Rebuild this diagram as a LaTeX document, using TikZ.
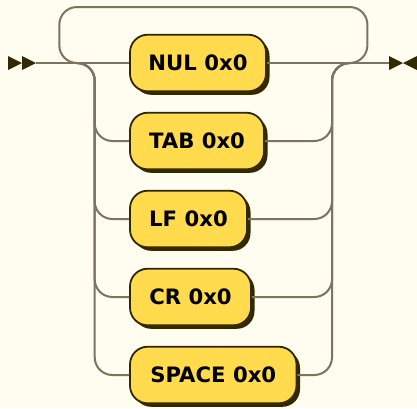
\documentclass[tikz,border=0pt]{standalone}
\usepackage{fontspec}
\setmainfont{DejaVu Sans}
\usetikzlibrary{shadows}
\definecolor{bg}{HTML}{FFFCF0}
\definecolor{ink}{HTML}{332900}
\definecolor{term}{HTML}{FFDB4D}
\definecolor{railc}{HTML}{7D745F}
\begin{document}
\begin{tikzpicture}[x=1pt,y=-1pt,
  terminal/.style={draw=ink, line width=1.8pt, fill=term, rounded corners=17.7pt,
    minimum height=56.6pt, inner sep=0pt, text=black,
    font=\bfseries\fontsize{21.2}{24}\selectfont,
    drop shadow={shadow xshift=3.5pt, shadow yshift=-3.5pt, fill=ink, opacity=1}},
  rail/.style={draw=railc, line width=2pt, rounded corners=17.7pt},
  marker/.style={fill=ink}]
\fill[bg] (0,0) rectangle (417,408);
\useasboundingbox (0,0) rectangle (417,408);

\coordinate (start) at (36,63);
\coordinate (end) at (389,63);
\coordinate (jl) at (77,63);
\coordinate (vl) at (94.7,63);
\coordinate (vr) at (332,63);
\coordinate (jr) at (349.7,63);
\coordinate (ll) at (59.3,63);
\coordinate (lt) at (59.3,7);
\coordinate (rt) at (367.4,7);
\coordinate (lr) at (367.4,63);

% loop back
\draw[rail] (jr) -- (lr) -- (rt) -- (lt) -- (ll) -- (jl);

\node[terminal, minimum width=136pt] (nul) at (198,63) {NUL 0x0};
\node[terminal, minimum width=134pt] (tab) at (197,141) {TAB 0x0};
\node[terminal, minimum width=117pt] (lf) at (188.5,219) {LF 0x0};
\node[terminal, minimum width=121pt] (cr) at (190.5,297) {CR 0x0};
\node[terminal, minimum width=166.5pt] (space) at (213.25,375) {SPACE 0x0};

\draw[rail] (start) -- (nul.west);
\draw[rail] (nul.east) -- (end);
\foreach \b in {tab,lf,cr,space}{
  \draw[rail] (jl) -- (vl) |- (\b.west);
  \draw[rail] (\b.east) -| (vr) -- (jr);
}

% start marker
\fill[marker] (8,56) -- (22,63) -- (8,70) -- cycle;
\fill[marker] (22,56) -- (36,63) -- (22,70) -- cycle;
% end marker
\fill[marker] (389,56) -- (403,63) -- (389,70) -- cycle;
\fill[marker] (417,56) -- (403,63) -- (417,70) -- cycle;
\end{tikzpicture}
\end{document}
